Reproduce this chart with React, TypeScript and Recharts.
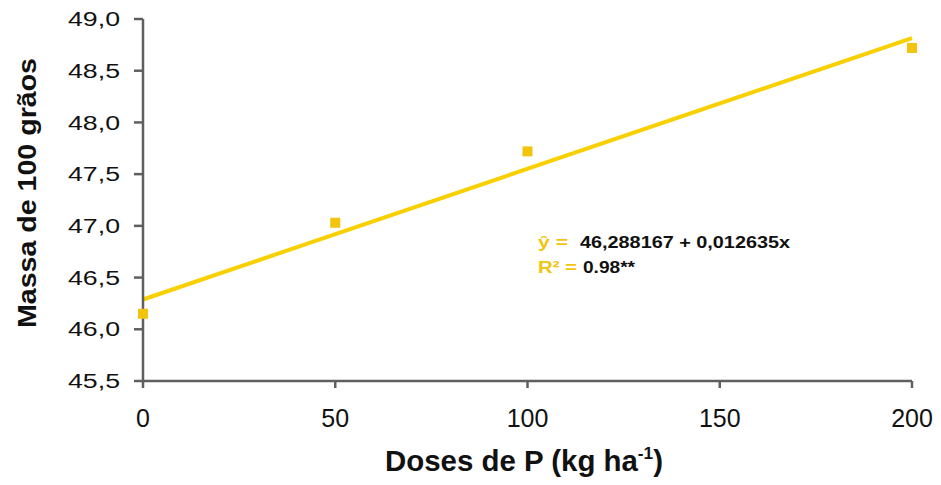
import React from 'react';
import { ComposedChart, Scatter, Line, XAxis, YAxis } from 'recharts';

const doses = [0, 50, 100, 200];
const massa = [46.15, 47.03, 47.72, 48.72];
const trendDoses = [0, 200];
const trendMassa = [46.288, 48.815];
const xTicks = [0, 50, 100, 150, 200];
const yTicks = [45.5, 46, 46.5, 47, 47.5, 48, 48.5, 49];

const points = doses.map((x, i) => ({ x, y: massa[i] }));
const trend = trendDoses.map((x, i) => ({ x, y: trendMassa[i] }));

const FONT = '"Liberation Sans", Arial, sans-serif';
const AXIS = '#5f5f5f';
const GOLD = '#F2C40C';
const LINE = '#F8D000';

const YTick = (props: any) => {
  const { x, y, payload } = props;
  return (
    <text
      x={x}
      y={y}
      dy="0.36em"
      textAnchor="end"
      fontFamily={FONT}
      fontSize={20}
      fill="#111"
      textLength={52}
      lengthAdjust="spacingAndGlyphs"
    >
      {payload.value.toFixed(1).replace('.', ',')}
    </text>
  );
};

const Square = (props: any) => {
  const { cx, cy } = props;
  return <rect x={cx - 5} y={cy - 5} width={10} height={10} fill={GOLD} />;
};

const App: React.FC = () => {
  return (
    <div style={{ position: 'relative', width: 941, height: 485, background: '#fff' }}>
      <style>{'body{margin:0}'}</style>
      <ComposedChart width={941} height={485} margin={{ top: 19, right: 29, left: 0, bottom: 0 }}>
        <XAxis
          type="number"
          dataKey="x"
          domain={[0, 200]}
          ticks={xTicks}
          height={104}
          stroke={AXIS}
          strokeWidth={2.5}
          tickSize={7}
          tickMargin={21}
          tick={{ fontFamily: FONT, fontSize: 25, fill: '#111' }}
        />
        <YAxis
          type="number"
          dataKey="y"
          domain={[45.5, 49]}
          ticks={yTicks}
          width={143}
          stroke={AXIS}
          strokeWidth={2.5}
          tickSize={9}
          tickMargin={14}
          tick={<YTick />}
        />
        <Line
          data={trend}
          dataKey="y"
          type="linear"
          stroke={LINE}
          strokeWidth={4}
          dot={false}
          activeDot={false}
          isAnimationActive={false}
        />
        <Scatter data={points} dataKey="y" shape={<Square />} isAnimationActive={false} />
      </ComposedChart>
      <svg
        width={941}
        height={485}
        style={{ position: 'absolute', left: 0, top: 0, pointerEvents: 'none' }}
        fontFamily={FONT}
      >
        <text
          x={36}
          y={193}
          transform="rotate(-90, 36, 193)"
          textAnchor="middle"
          fontSize={26}
          fontWeight="bold"
          fill="#111"
          textLength={270}
          lengthAdjust="spacingAndGlyphs"
        >
          Massa de 100 grãos
        </text>
        <text
          x={385}
          y={471}
          fontSize={29}
          fontWeight="bold"
          fill="#111"
          textLength={278}
          lengthAdjust="spacingAndGlyphs"
        >
          Doses de P (kg ha
          <tspan fontSize={17} dy={-12}>-1</tspan>
          <tspan dy={12}>)</tspan>
        </text>
        <text x={538} y={248} fontSize={16} fontWeight="bold" fill={GOLD} textLength={30} lengthAdjust="spacingAndGlyphs">
          ŷ =
        </text>
        <text x={580} y={248} fontSize={16} fontWeight="bold" fill="#111" textLength={210} lengthAdjust="spacingAndGlyphs">
          46,288167 + 0,012635x
        </text>
        <text x={538} y={273} fontSize={16} fontWeight="bold" fill={GOLD} textLength={39} lengthAdjust="spacingAndGlyphs">
          R² =
        </text>
        <text x={583} y={273} fontSize={16} fontWeight="bold" fill="#111" textLength={52} lengthAdjust="spacingAndGlyphs">
          0.98**
        </text>
      </svg>
    </div>
  );
};

export default App;
